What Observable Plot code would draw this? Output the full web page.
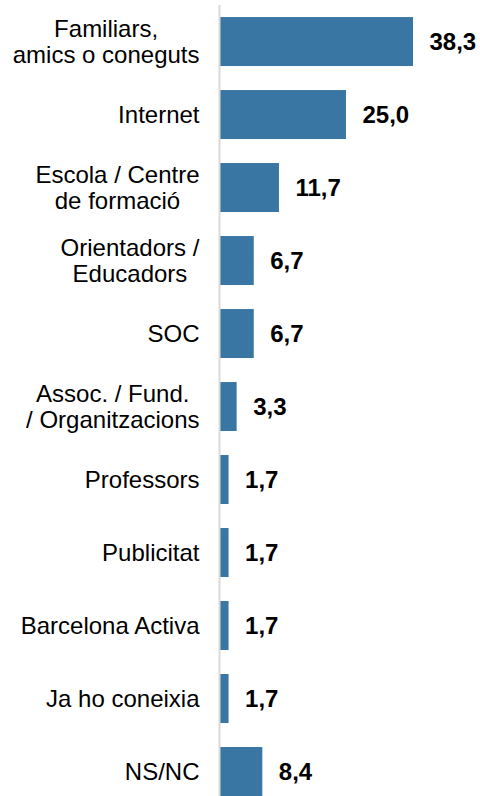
<!DOCTYPE html>
<html>
<head>
<meta charset="utf-8">
<script src="https://cdn.jsdelivr.net/npm/d3@7"></script>
<script src="https://cdn.jsdelivr.net/npm/@observablehq/plot@0.6"></script>
<style>
  html, body { margin: 0; padding: 0; background: #fff; overflow: hidden; }
  #chart svg { display: block; }
</style>
</head>
<body>
<div id="chart"></div>
<script>
const categories = [
  "Familiars,\namics o coneguts",
  "Internet",
  "Escola / Centre\nde formació",
  "Orientadors /\nEducadors",
  "SOC",
  "Assoc. / Fund.\n/ Organitzacions",
  "Professors",
  "Publicitat",
  "Barcelona Activa",
  "Ja ho coneixia",
  "NS/NC"
];
const values = [38.3, 25.0, 11.7, 6.7, 6.7, 3.3, 1.7, 1.7, 1.7, 1.7, 8.4];

const data = categories.map((c, i) => ({category: c, value: values[i]}));
const fmt = v => v.toFixed(1).replace(".", ",");
const FONT = "'Liberation Sans', Arial, Helvetica, sans-serif";

const chart = Plot.plot({
  width: 480,
  height: 796,
  marginLeft: 220,
  marginRight: 67,
  marginTop: 5,
  marginBottom: 0,
  style: {fontFamily: FONT, fontSize: "24px", color: "#000", background: "#fff"},
  x: {domain: [0, 38.3], axis: null},
  y: {domain: categories, paddingInner: 0.329, paddingOuter: 0.0825, align: 1, round: false, label: null},
  marks: [
    Plot.axisY({tickSize: 0, tickPadding: 21, fontSize: 24, lineHeight: 1.06, fill: "#000", label: null}),
    Plot.barX(data, {x: "value", y: "category", fill: "#3a76a3"}),
    Plot.ruleX([0], {stroke: "#d9d9d9", strokeWidth: 2, dx: -1}),
    Plot.text(data, {x: "value", y: "category", text: d => fmt(d.value), textAnchor: "start", dx: 16, fontSize: 24, fontWeight: "bold", fill: "#000"})
  ]
});

document.getElementById("chart").appendChild(chart);

// Center multi-line category labels within their right-aligned block
const labelGroup = chart.querySelector('g[aria-label="y-axis tick label"]');
if (labelGroup) {
  labelGroup.querySelectorAll("text").forEach(t => {
    if (t.querySelectorAll("tspan").length > 1) {
      const w = t.getBBox().width;
      t.setAttribute("text-anchor", "middle");
      const tr = t.getAttribute("transform") || "";
      t.setAttribute("transform", (tr + " translate(" + (-w / 2) + ",0)").trim());
    }
  });
}
</script>
</body>
</html>
